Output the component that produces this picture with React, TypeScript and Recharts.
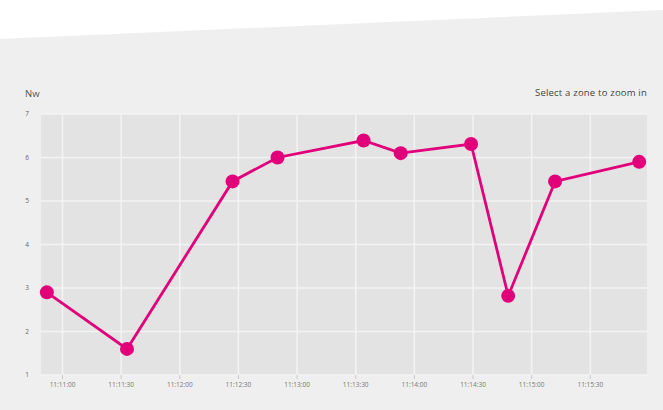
import React from 'react';
import { LineChart, Line, XAxis, YAxis, CartesianGrid } from 'recharts';

// readings (time of sample, power)
const times = ['11:10:52', '11:11:33', '11:12:27', '11:12:50', '11:13:34', '11:13:53', '11:14:29', '11:14:48', '11:15:12', '11:15:55'];
const power = [2.9, 1.6, 5.45, 6.0, 6.39, 6.1, 6.31, 2.82, 5.45, 5.9];

const xTickLabels = ['11:11:00', '11:11:30', '11:12:00', '11:12:30', '11:13:00', '11:13:30', '11:14:00', '11:14:30', '11:15:00', '11:15:30'];
const yTicks = [1, 2, 3, 4, 5, 6, 7];

const MAGENTA = '#e2007a';

const toSec = (t: string) => {
  const [h, m, s] = t.split(':').map(Number);
  return h * 3600 + m * 60 + s;
};

const fmtTime = (v: number) => {
  const h = Math.floor(v / 3600);
  const m = Math.floor((v % 3600) / 60);
  const s = Math.round(v % 60);
  return `${h}:${String(m).padStart(2, '0')}:${String(s).padStart(2, '0')}`;
};

const data = times.map((t, i) => ({ t: toSec(t), value: power[i] }));

const xDomain = [toSec('11:10:49'), toSec('11:15:59')];

// vertical grid lines at every x tick (the default grid skips some on a number axis)
const vGrid = (props: any) => {
  const off = props && props.offset;
  if (!off) return [];
  return xTickLabels.map(
    (t) => off.left + ((toSec(t) - xDomain[0]) / (xDomain[1] - xDomain[0])) * off.width
  );
};

export default function App() {
  return (
    <div style={{ position: 'absolute', top: 0, left: 0, width: 663, height: 410, background: '#fff', overflow: 'hidden', fontFamily: '"Open Sans", sans-serif' }}>
      {/* slanted grey panel */}
      <div
        style={{
          position: 'absolute',
          inset: 0,
          background: '#efefef',
          clipPath: 'polygon(0 39px, 100% 10px, 100% 100%, 0 100%)',
        }}
      />
      <div style={{ position: 'absolute', left: 25, top: 87, fontSize: 9.5, color: '#555' }}>Nw</div>
      <div style={{ position: 'absolute', right: 16, top: 86, fontSize: 9.5, color: '#444', letterSpacing: 0.2 }}>Select a zone to zoom in</div>
      <div style={{ position: 'absolute', top: 0, left: 0 }}>
        <LineChart width={663} height={410} data={data} margin={{ top: 114, right: 16, left: 0, bottom: 0 }}>
          <CartesianGrid fill="#e3e3e3" stroke="#f3f3f3" strokeWidth={1.6} verticalCoordinatesGenerator={vGrid} />
          <XAxis
            dataKey="t"
            type="number"
            domain={xDomain}
            ticks={xTickLabels.map(toSec)}
            tickFormatter={fmtTime}
            interval={0}
            height={35}
            axisLine={false}
            tickLine={{ stroke: '#c8c8c8' }}
            tickSize={4}
            tickMargin={3}
            tick={{ fontSize: 6.5, fill: '#777' }}
          />
          <YAxis
            domain={[1, 7]}
            ticks={yTicks}
            width={41}
            axisLine={false}
            tickLine={false}
            tick={{ fontSize: 6.5, fill: '#666', dx: -4 }}
          />
          <Line
            type="linear"
            dataKey="value"
            stroke={MAGENTA}
            strokeWidth={2.8}
            dot={{ r: 7, fill: MAGENTA, stroke: 'none' }}
            activeDot={false}
            isAnimationActive={false}
          />
        </LineChart>
      </div>
    </div>
  );
}
